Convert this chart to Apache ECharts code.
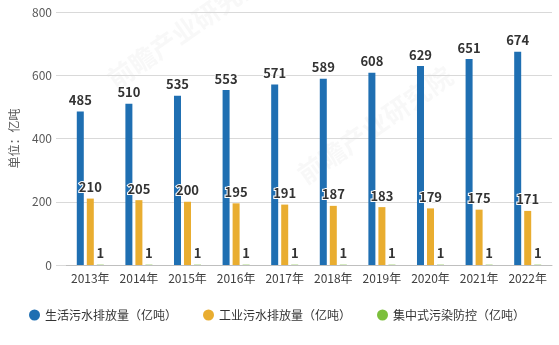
<!DOCTYPE html>
<html>
<head>
<meta charset="utf-8">
<script src="https://cdn.jsdelivr.net/npm/echarts@6/dist/echarts.min.js"></script>
<style>
  html, body { margin: 0; padding: 0; background: #fff; }
  #chart { width: 559px; height: 345px; }
</style>
</head>
<body>
<div id="chart"></div>
<script>
const years = ['2013年', '2014年', '2015年', '2016年', '2017年', '2018年', '2019年', '2020年', '2021年', '2022年'];
const domestic = [485, 510, 535, 553, 571, 589, 608, 629, 651, 674];
const industrial = [210, 205, 200, 195, 191, 187, 183, 179, 175, 171];
const centralized = [1, 1, 1, 1, 1, 1, 1, 1, 1, 1];
const seriesNames = ['生活污水排放量（亿吨）', '工业污水排放量（亿吨）', '集中式污染防控（亿吨）'];
const yTicks = { min: 0, max: 800, interval: 200 };

const font = '"Noto Sans CJK SC", "Microsoft YaHei", sans-serif';
const colors = ['#1f6fb2', '#e9ad30', '#7cbf3c'];

const barLabel = {
  show: true,
  position: 'top',
  distance: 5,
  fontFamily: font,
  fontSize: 13,
  fontWeight: 'bold',
  color: '#333',
  textBorderColor: '#fff',
  textBorderWidth: 2
};

function barSeries(name, data, color) {
  return {
    name: name,
    type: 'bar',
    data: data,
    barWidth: 7,
    barGap: '43%',
    itemStyle: { color: color },
    label: barLabel
  };
}

const chart = echarts.init(document.getElementById('chart'), null, { renderer: 'canvas' });

// faint diagonal brand watermark
const watermark = (x, y) => ({
  type: 'text',
  x: x,
  y: y,
  rotation: Math.PI * 35 / 180,
  silent: true,
  z: -10,
  style: {
    text: '前瞻产业研究院',
    fontFamily: font,
    fontSize: 26,
    fontWeight: 'bold',
    fill: 'rgba(200,200,200,0.13)',
    textAlign: 'center',
    textVerticalAlign: 'middle'
  }
});

chart.setOption({
  animation: false,
  color: colors,
  graphic: [watermark(185, 30), watermark(375, 125)],
  grid: { left: 62, right: 7, top: 12, bottom: 80 },
  legend: {
    data: seriesNames,
    left: 24,
    top: 304,
    icon: 'circle',
    itemWidth: 11,
    itemHeight: 11,
    itemGap: 26,
    textStyle: { fontFamily: font, fontSize: 12, color: '#333' }
  },
  xAxis: {
    type: 'category',
    data: years,
    axisLine: { lineStyle: { color: '#bfbfbf' } },
    axisTick: { alignWithLabel: true, length: 5, lineStyle: { color: '#bfbfbf' } },
    axisLabel: { interval: 0, fontFamily: font, fontSize: 12, color: '#404040', margin: 7 }
  },
  yAxis: {
    type: 'value',
    min: yTicks.min,
    max: yTicks.max,
    interval: yTicks.interval,
    name: '单位：亿吨',
    nameLocation: 'middle',
    nameGap: 46,
    nameTextStyle: { fontFamily: font, fontSize: 12, color: '#595959' },
    axisLine: { show: false },
    axisTick: { show: true, length: 10, lineStyle: { color: '#d9d9d9' } },
    axisLabel: { fontFamily: font, fontSize: 12, color: '#595959', margin: 14 },
    splitLine: { lineStyle: { color: '#d9d9d9' } }
  },
  series: [
    barSeries(seriesNames[0], domestic, colors[0]),
    barSeries(seriesNames[1], industrial, colors[1]),
    barSeries(seriesNames[2], centralized, colors[2])
  ]
});
</script>
</body>
</html>
